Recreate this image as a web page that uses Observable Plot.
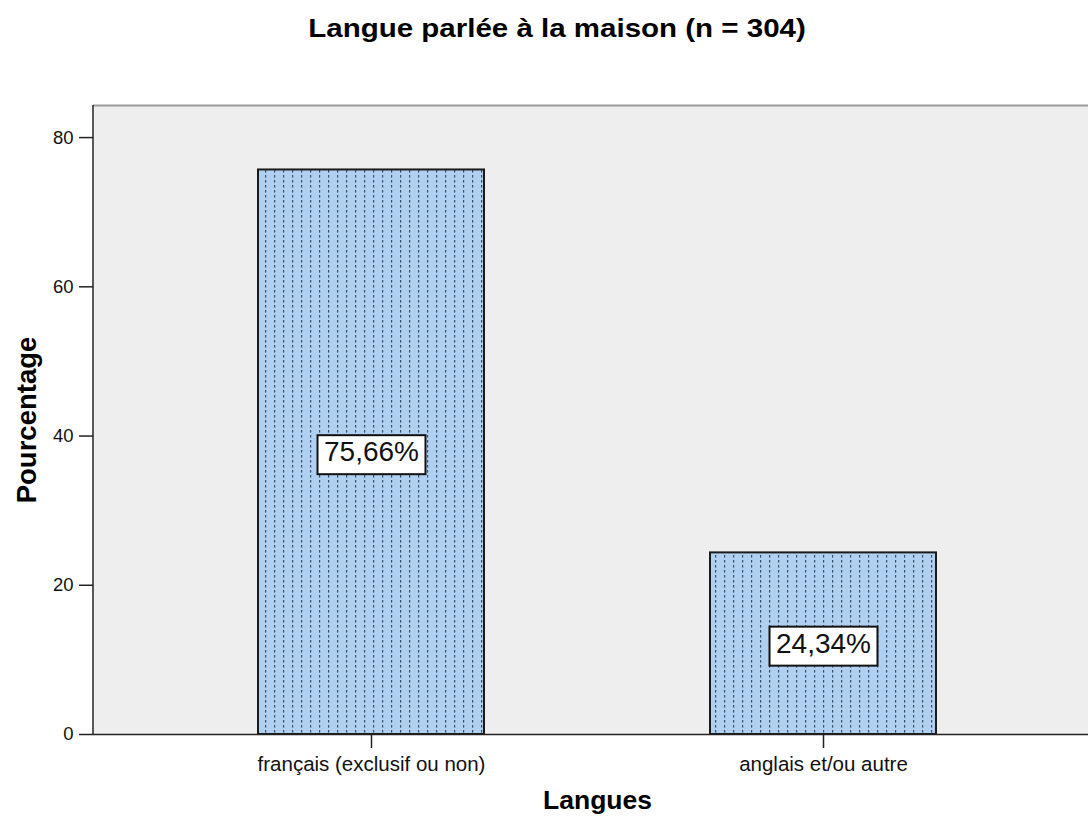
<!DOCTYPE html>
<html>
<head>
<meta charset="utf-8">
<script src="https://cdn.jsdelivr.net/npm/d3@7"></script>
<script src="https://cdn.jsdelivr.net/npm/@observablehq/plot@0.6"></script>
<style>
  html, body { margin: 0; padding: 0; background: #fff; overflow: hidden; width: 1088px; height: 817px; }
  #wrap { position: relative; width: 1088px; height: 817px; overflow: hidden; }
  #title { position: absolute; left: 0; top: 16px; width: 1114px; text-align: center;
           font: bold 25px "Liberation Sans", Arial, sans-serif; line-height: 25px; color: #000;
           transform: scaleX(1.18); transform-origin: 557px 0; white-space: nowrap; }
  #chart { position: absolute; left: 0; top: 0; }
  #chart svg { max-width: none !important; }
</style>
</head>
<body>
<div id="wrap">
  <div id="chart"></div>
  <div id="title">Langue parlée à la maison (n = 304)</div>
</div>
<script>
const categories = ["français (exclusif ou non)", "anglais et/ou autre"];
const percentages = [75.66, 24.34];
const yTicks = [0, 20, 40, 60, 80];
const yMax = 84.3;
const xLabel = "Langues";
const yLabel = "Pourcentage";

const data = categories.map((c, i) => ({ category: c, value: percentages[i] }));
const fmt = v => v.toFixed(2).replace(".", ",") + "%";
const font = '"Liberation Sans", Arial, sans-serif';

const plot = Plot.plot({
  width: 1101,
  height: 817,
  marginTop: 105,
  marginBottom: 83,
  marginLeft: 93,
  marginRight: 0,
  style: { fontFamily: font, background: "transparent", overflow: "visible", maxWidth: "none" },
  x: { domain: categories, paddingInner: 0.5, paddingOuter: 0.363, label: null },
  y: { domain: [0, yMax], label: null },
  marks: [
    Plot.frame({ fill: "#eeeeee", stroke: null }),
    Plot.ruleY([yMax], { stroke: "#9a9a9a", strokeWidth: 2 }),
    Plot.barY(data, { x: "category", y: "value", fill: "url(#dashpat)", stroke: "#1a1a1a", strokeWidth: 2 }),
    Plot.text(data, { x: "category", y: d => d.value / 2, text: d => fmt(d.value), fontSize: 28, fill: "#111" }),
    Plot.ruleY([0], { stroke: "#222", strokeWidth: 1.5 }),
    Plot.axisY({ ticks: yTicks, tickSize: 14, tickPadding: 6, fontSize: 18.5, label: null, stroke: "#222", strokeWidth: 1.5, fill: "#111" }),
    Plot.axisX({ tickSize: 14, tickPadding: 8, fontSize: 20.5, label: null, stroke: "#222", strokeWidth: 1.5, fill: "#111" }),
    Plot.text([yLabel], { frameAnchor: "left", dx: -66, rotate: -90, textAnchor: "middle", lineAnchor: "middle", text: d => d, fontSize: 27.5, fontWeight: "bold", fill: "#000" }),
    Plot.text([xLabel], { frameAnchor: "bottom", dy: 74, text: d => d, fontSize: 26.5, fontWeight: "bold", fill: "#000" })
  ]
});
plot.style.maxWidth = "none";

// pattern for the bars (light blue with dark vertical dashes)
const svg = d3.select(plot);
const defs = svg.insert("defs", ":first-child");
const pat = defs.append("pattern")
  .attr("id", "dashpat").attr("patternUnits", "userSpaceOnUse")
  .attr("width", 9).attr("height", 5);
pat.append("rect").attr("width", 9).attr("height", 5).attr("fill", "#afd0f0");
pat.append("rect").attr("x", 4).attr("y", 0).attr("width", 1.2).attr("height", 2.6).attr("fill", "#3d4f66");

document.getElementById("chart").appendChild(plot);

// left axis line
const ys = plot.scale("y");
svg.append("line")
  .attr("x1", 93).attr("x2", 93)
  .attr("y1", ys.range[0]).attr("y2", ys.range[1])
  .attr("stroke", "#222").attr("stroke-width", 1.5);

// white boxes behind value labels
svg.selectAll("text").filter(function() { return /%$/.test(this.textContent); }).each(function() {
  const b = this.getBBox();
  d3.select(this.parentNode).insert("rect", () => this)
    .attr("transform", this.getAttribute("transform"))
    .attr("x", b.x - 6.5).attr("y", b.y - 1).attr("width", b.width + 13).attr("height", b.height + 8)
    .attr("fill", "#fff").attr("stroke", "#111").attr("stroke-width", 2);
});
</script>
</body>
</html>
